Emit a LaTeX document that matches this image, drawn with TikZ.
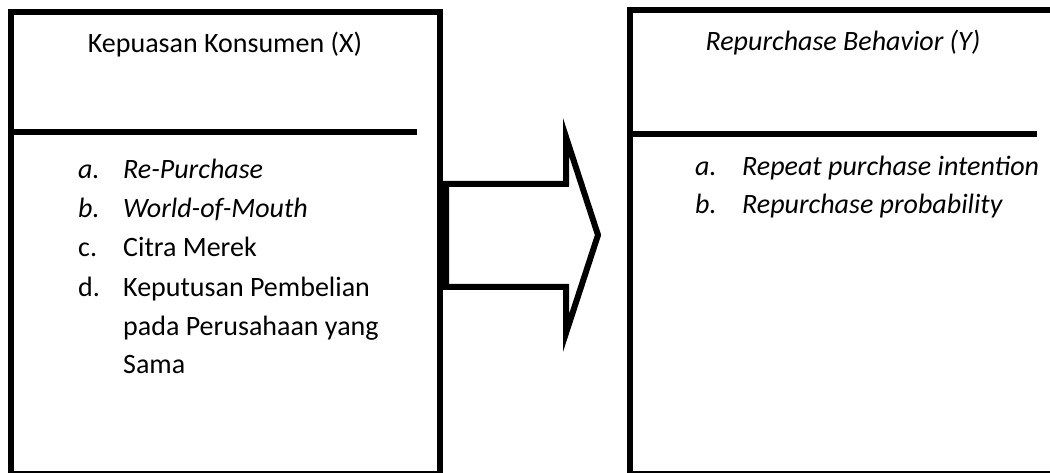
\documentclass[tikz,border=0pt]{standalone}
\usepackage{fontspec}
\setmainfont{Carlito}
\begin{document}
\begin{tikzpicture}[x=1bp,y=-1bp,
  frame/.style={line width=6bp, line join=miter, line cap=rect},
  txt/.style={anchor=base west, inner sep=0pt, font=\fontsize{28bp}{33bp}\selectfont},
  title/.style={anchor=base, inner sep=0pt, font=\fontsize{28bp}{33bp}\selectfont}]
\useasboundingbox (0,0) rectangle (1050,473);

% left box: outline and divider under the heading
\coordinate (L1) at (10.5,12.5);
\coordinate (L2) at (439.5,474);
\draw[frame] (L1) rectangle (L2);
\draw[line width=6bp] (13,132) -- (417,132);

% right box: runs past the right edge
\coordinate (R1) at (630,10);
\coordinate (R2) at (1060,474);
\draw[frame] (R1) rectangle (R2);
\draw[line width=6bp] (633,134.5) -- (1037,134.5);

% block arrow between the boxes
\draw[frame] (446,184) -- (566,184) -- (566,137) -- (598,235) -- (566,333)
  -- (566,287) -- (446,287) -- cycle;

% headings
\node[title] (tx) at (225,53) {Kepuasan Konsumen (X)};
\node[title] (ty) at (843,51) {\itshape Repurchase Behavior (Y)};

% indicators of X
\node[txt] (xa) at (78,179) {\itshape a.};
\node[txt] (xat) at (123,179) {\itshape Re-Purchase};
\node[txt] (xb) at (78,218) {\itshape b.};
\node[txt] (xbt) at (123,218) {\itshape World-of-Mouth};
\node[txt] (xc) at (78,257) {c.};
\node[txt] (xct) at (123,257) {Citra Merek};
\node[txt] (xd) at (78,297) {d.};
\node[txt] (xdt) at (123,297) {Keputusan Pembelian};
\node[txt] (xdt2) at (123,336) {pada Perusahaan yang};
\node[txt] (xdt3) at (123,374) {Sama};

% indicators of Y
\node[txt] (ya) at (695,176) {\itshape a.};
\node[txt] (yat) at (742,176) {\itshape Repeat purchase intention};
\node[txt] (yb) at (695,214) {\itshape b.};
\node[txt] (ybt) at (742,214) {\itshape Repurchase probability};
\end{tikzpicture}
\end{document}
